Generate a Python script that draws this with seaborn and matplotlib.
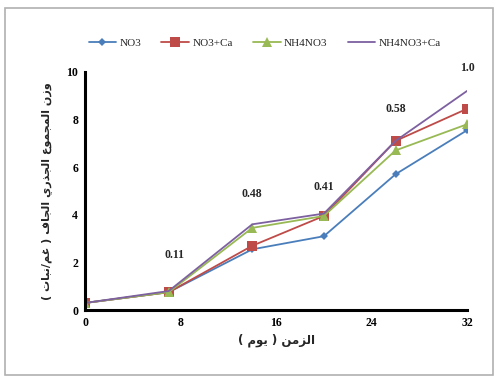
import numpy as np
import pandas as pd
import matplotlib
matplotlib.use('Agg')
import matplotlib.pyplot as plt
import seaborn as sns
from matplotlib.patches import Rectangle

# data
days = [0, 7, 14, 20, 26, 32]
no3 = [0.3, 0.75, 2.55, 3.1, 5.7, 7.55]
no3_ca = [0.3, 0.75, 2.7, 3.95, 7.1, 8.45]
nh4no3 = [0.3, 0.75, 3.45, 3.95, 6.7, 7.8]
nh4no3_ca = [0.3, 0.8, 3.6, 4.05, 7.1, 9.2]
series_names = ['NO3', 'NO3+Ca', 'NH4NO3', 'NH4NO3+Ca']

# numbers written above the curves
note_x = [7.5, 14, 20, 26, 32]
note_y = [2.05, 4.6, 4.9, 8.2, 9.9]
note_text = ['0.11', '0.48', '0.41', '0.58', '1.0']

x_label = 'الزمن ( يوم )'
y_label = 'وزن المجموع الجذري الجاف ( غم/نبات )'

# Arabic presentation forms: isolated, final, initial, medial
FORMS = {
    'ا': (0xFE8D, 0xFE8E, None, None),
    'ب': (0xFE8F, 0xFE90, 0xFE91, 0xFE92),
    'ت': (0xFE95, 0xFE96, 0xFE97, 0xFE98),
    'ج': (0xFE9D, 0xFE9E, 0xFE9F, 0xFEA0),
    'ذ': (0xFEAB, 0xFEAC, None, None),
    'ر': (0xFEAD, 0xFEAE, None, None),
    'ز': (0xFEAF, 0xFEB0, None, None),
    'ع': (0xFEC9, 0xFECA, 0xFECB, 0xFECC),
    'غ': (0xFECD, 0xFECE, 0xFECF, 0xFED0),
    'ف': (0xFED1, 0xFED2, 0xFED3, 0xFED4),
    'ل': (0xFEDD, 0xFEDE, 0xFEDF, 0xFEE0),
    'م': (0xFEE1, 0xFEE2, 0xFEE3, 0xFEE4),
    'ن': (0xFEE5, 0xFEE6, 0xFEE7, 0xFEE8),
    'و': (0xFEED, 0xFEEE, None, None),
    'ي': (0xFEF1, 0xFEF2, 0xFEF3, 0xFEF4),
}


def shape(text):
    """join the letters and put them in visual order"""
    out = []
    for i, ch in enumerate(text):
        if ch not in FORMS:
            out.append(ch)
            continue
        prev = text[i - 1] if i > 0 else ''
        nxt = text[i + 1] if i + 1 < len(text) else ''
        joins_prev = prev in FORMS and FORMS[prev][2] is not None
        joins_next = FORMS[ch][2] is not None and nxt in FORMS
        iso, fin, ini, med = FORMS[ch]
        if joins_prev and joins_next:
            code = med
        elif joins_prev:
            code = fin
        elif joins_next:
            code = ini
        else:
            code = iso
        out.append(chr(code))
    swap = {'(': ')', ')': '('}
    return ''.join(swap.get(c, c) for c in reversed(out))


df = pd.DataFrame({
    'day': days * 4,
    'value': no3 + no3_ca + nh4no3 + nh4no3_ca,
    'series': sum([[n] * len(days) for n in series_names], []),
})

sns.set_style('white')
plt.rcParams['font.family'] = ['Liberation Serif', 'DejaVu Sans']

palette = {'NO3': '#4a7ebb', 'NO3+Ca': '#be4b48',
           'NH4NO3': '#98b954', 'NH4NO3+Ca': '#7d60a0'}
markers = {'NO3': 'D', 'NO3+Ca': 's', 'NH4NO3': '^', 'NH4NO3+Ca': ''}
sizes = {'NO3': 4.5, 'NO3+Ca': 6.5, 'NH4NO3': 6.5, 'NH4NO3+Ca': 0}

fig = plt.figure(figsize=(4.98, 3.80), dpi=100)
fig.patches.append(Rectangle((0.01, 0.013), 0.98, 0.966, transform=fig.transFigure,
                             fill=False, edgecolor='#b0b0b0', linewidth=1.2))
ax = fig.add_axes([0.171, 0.184, 0.767, 0.627])

for name in series_names:
    sub = df[df['series'] == name]
    sns.lineplot(data=sub, x='day', y='value', ax=ax, color=palette[name],
                 marker=markers[name] if markers[name] else None,
                 markersize=sizes[name], linewidth=1.3, label=name,
                 markeredgewidth=0)

for tx, ty, tt in zip(note_x, note_y, note_text):
    ax.text(tx, ty, tt, ha='center', va='bottom', fontsize=8.5, fontweight='bold')

ax.set_xlim(0, 32)
ax.set_ylim(0, 10)
ax.set_xticks([0, 8, 16, 24, 32])
ax.set_yticks([0, 2, 4, 6, 8, 10])
ax.tick_params(axis='both', labelsize=8.5, length=3, width=1.5, direction='inout',
               colors='black')
for lab in ax.get_xticklabels() + ax.get_yticklabels():
    lab.set_fontweight('bold')
for side in ['top', 'right']:
    ax.spines[side].set_visible(False)
for side in ['left', 'bottom']:
    ax.spines[side].set_linewidth(2.2)
    ax.spines[side].set_color('black')

ax.set_xlabel(shape(x_label), fontsize=8.5, fontweight='bold', labelpad=3,
              family=['DejaVu Sans'])
ax.set_ylabel(shape(y_label), fontsize=8, fontweight='bold', labelpad=10,
              family=['DejaVu Sans'])

ax.legend(loc='lower center', bbox_to_anchor=(0.47, 1.06), ncol=4, frameon=False,
          fontsize=8, handlelength=2.5, columnspacing=1.8, handletextpad=0.3)

fig.savefig('out.png', dpi=100)
